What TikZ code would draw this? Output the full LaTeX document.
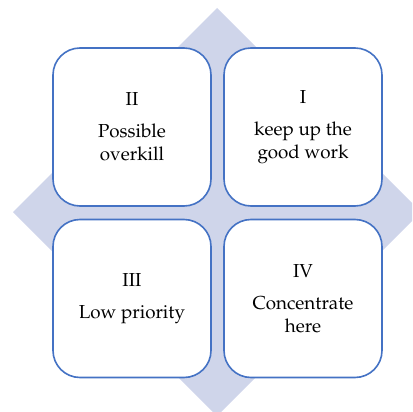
\documentclass[tikz,border=0pt]{standalone}
\usepackage[T1]{fontenc}
\usepackage{mathpazo}
\definecolor{boxblue}{RGB}{68,114,196}
\definecolor{diamondfill}{RGB}{207,213,234}
\begin{document}
\begin{tikzpicture}[x=1pt, y=-1pt,
    quad/.style={
        draw=boxblue,
        line width=1.6pt,
        fill=white,
        rounded corners=27pt,
        minimum width=158pt,
        minimum height=158pt,
        align=center,
        font=\fontsize{18.8}{23}\selectfont
    }
]

% --- Frame ---
\useasboundingbox (0,0) rectangle (412,412);
\clip (0,0) rectangle (412,412);

% --- Background diamond ---
\fill[diamondfill] (217,8) -- (421,212) -- (217,416) -- (13,212) -- cycle;

% --- Top row ---
\node[quad] (q2) at (132,127) {II\\[9pt]Possible\\overkill};
\node[quad] (q1) at (303,127) {I\\[9pt]keep up the\\good work};

% --- Bottom row ---
\node[quad] (q3) at (132,298.5) {III\\[9pt]Low priority};
\node[quad] (q4) at (303,298.5) {IV\\[9pt]Concentrate\\here};

\end{tikzpicture}
\end{document}
